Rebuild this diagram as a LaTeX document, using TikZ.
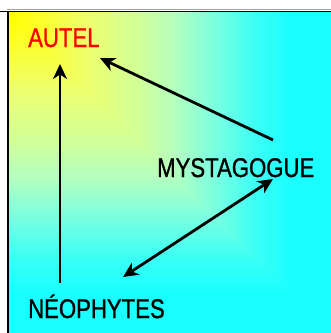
\documentclass[tikz,border=0pt]{standalone}
\usepackage{fontspec}
\usetikzlibrary{arrows.meta,calc}
\newfontfamily\lblfont{Liberation Sans}[FakeStretch=0.82,FakeBold=1]
\tikzset{
  lbl/.style={inner sep=0pt, anchor=base west, font=\lblfont\fontsize{27}{30}\selectfont},
  arr/.style={line width=2.8pt, -{Stealth[length=15pt,width=14pt,inset=4.5pt]}},
  dblarr/.style={line width=2.8pt, {Stealth[length=15pt,width=14pt,inset=4.5pt]}-{Stealth[length=15pt,width=14pt,inset=4.5pt]}}
}
\begin{document}
\begin{tikzpicture}[x=1pt,y=1pt]
\useasboundingbox (0,0) rectangle (331,333);
% rectangular corner gradient (yellow top-left to cyan)
\foreach \ta/\tb/\ra/\rb/\ba/\bb in {0.88/1.0/25/25/255/255, 0.78/0.88/55/25/245/255, 0.65/0.78/120/55/225/245, 0.52/0.65/180/120/190/225, 0.4/0.52/210/180/150/190, 0.25/0.4/238/210/110/150, 0.1/0.25/252/238/40/110, 0/0.1/255/252/0/40}{
  \foreach \k in {12,11,...,1}{
    \pgfmathsetmacro\tt{\ta+(\tb-\ta)*\k/12}
    \pgfmathtruncatemacro\rr{round(\ra+(\rb-\ra)*\k/12)}
    \pgfmathtruncatemacro\bbb{round(\ba+(\bb-\ba)*\k/12)}
    \definecolor{gc}{RGB}{\rr,255,\bbb}
    \fill[gc] (9,321) rectangle ({9+\tt*322},{321-\tt*321});
  }
}
% frame
\draw[draw={rgb,255:red,160;green,160;blue,160}, line width=1.5pt] (7,323.5) -- (331,323.5);
\draw[black, line width=1.5pt] (0,321.5) -- (331,321.5);
\draw[black, line width=2pt] (8,322) -- (8,0);
% labels
\node[lbl, text=red] (autel) at (28,286) {AUTEL};
\node[lbl] (myst) at (157,156) {MYSTAGOGUE};
\node[lbl] (neo) at (28,15) {NÉOPHYTES};
% connectors
\draw[arr] ([shift={(32,35)}]neo.base west) -- ([shift={(32,-17)}]autel.base west);
\draw[arr] ([shift={(116,37)}]myst.base west) -- ([shift={(72,-11)}]autel.base west);
\draw[dblarr] ([shift={(95,41)}]neo.base west) -- ([shift={(116,-2)}]myst.base west);
\end{tikzpicture}
\end{document}
